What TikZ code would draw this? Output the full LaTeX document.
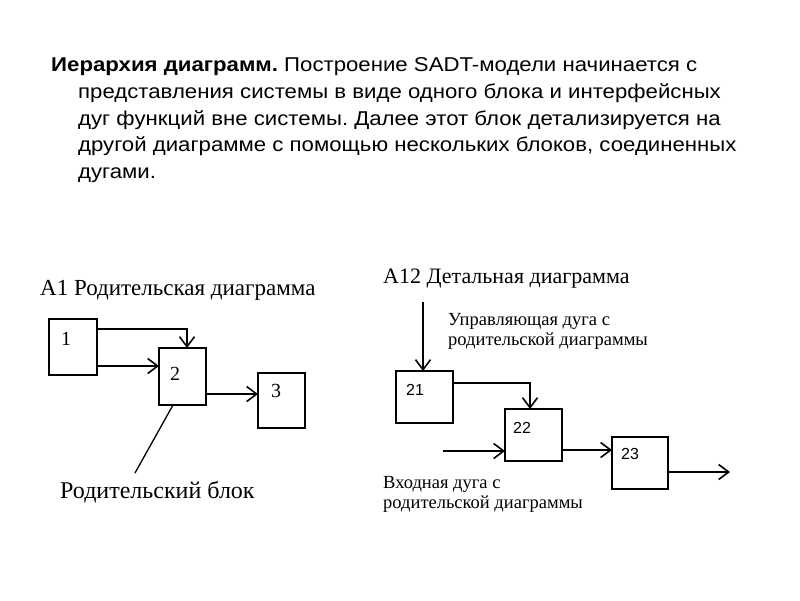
\documentclass[tikz,border=0pt]{standalone}
\usepackage{fontspec}
\setmainfont{Liberation Serif}
\newfontfamily\arial{Liberation Sans}
\newfontfamily\arialw[FakeStretch=1.11]{Liberation Sans}
\usetikzlibrary{arrows.meta,calc}
\tikzset{
  box/.style={draw=black, line width=1.1pt, minimum width=#1, anchor=north west, inner sep=0pt, outer sep=0pt},
  arr/.style={line width=1.9pt, -{Straight Barb[length=10pt,width=15pt,line width=1.6pt]}},
  plain/.style={line width=1.3pt},
  body/.style={anchor=base west, inner sep=0pt, font=\arialw\fontsize{20}{24}\selectfont\frenchspacing},
  ttl/.style={anchor=base west, inner sep=0pt, font=\fontsize{#1}{25}\selectfont},
  ann/.style={anchor=base west, inner sep=0pt, font=\fontsize{18.5}{20}\selectfont},
  lblT/.style={anchor=base west, inner sep=0pt, font=\fontsize{20}{24}\selectfont},
  lblA/.style={anchor=base west, inner sep=0pt, font=\arial\fontsize{16}{18}\selectfont},
}
\begin{document}
\begin{tikzpicture}[x=1pt,y=-1pt]
\useasboundingbox[fill=white] (0,0) rectangle (800,600);
% body text
\node[body] (t1) at (51,71) {\textbf{Иерархия диаграмм.} Построение SADT-модели начинается с};
\node[body] (t2) at (78,98) {представления системы в виде одного блока и интерфейсных};
\node[body] (t3) at (78,125) {дуг функций вне системы. Далее этот блок детализируется на};
\node[body] (t4) at (78,151) {другой диаграмме с помощью нескольких блоков, соединенных};
\node[body] (t5) at (78,178) {дугами.};
% left diagram
\node[ttl=23] (lt) at (40,295) {A1 Родительская диаграмма};
\node[box=48pt, minimum height=56pt] (b1) at (49,319) {};
\node[box=47pt, minimum height=57pt] (b2) at (159,348) {};
\node[box=47pt, minimum height=55pt] (b3) at (258,373) {};
\node[lblT] (l1) at (61,345) {1};
\node[lblT] (l2) at (170,380) {2};
\node[lblT] (l3) at (271,397) {3};
\coordinate (a1) at ($(b1.north east)+(0,10)$);
\draw[arr] (a1) -| ($(b2.north)+(4.5,0)$);
\coordinate (a2) at ($(b1.south east)+(0,-9)$);
\draw[arr] (a2) -- (a2 -| b2.west);
\coordinate (a3) at ($(b2.south east)+(0,-11)$);
\draw[arr] (a3) -- (a3 -| b3.west);
\coordinate (pb) at (135,473);
\draw[plain] ($(b2.south)+(-9.5,0)$) -- (pb);
\node[ttl=24] (plbl) at (60,498) {Родительский блок};
% right diagram
\node[ttl=22] (rt) at (383,283) {A12 Детальная диаграмма};
\node[ann] (c1a) at (448,325) {Управляющая дуга с};
\node[ann] (c1b) at (448,345) {родительской диаграммы};
\node[box=57pt, minimum height=52pt] (b21) at (396,371) {};
\node[box=57pt, minimum height=52pt] (b22) at (505,409) {};
\node[box=56pt, minimum height=52pt] (b23) at (612,437) {};
\node[lblA] (l21) at (406,395) {21};
\node[lblA] (l22) at (513,433) {22};
\node[lblA] (l23) at (621,459) {23};
\coordinate (ctl) at (423,302);
\draw[arr] (ctl) -- (ctl |- b21.north);
\coordinate (r1) at ($(b21.north east)+(0,12)$);
\draw[arr] (r1) -| ($(b22.north)+(-3.5,0)$);
\coordinate (inp) at (443,451);
\draw[arr] (inp) -- (inp -| b22.west);
\coordinate (r2) at ($(b22.south east)+(0,-11)$);
\draw[arr] (r2) -- (r2 -| b23.west);
\coordinate (r3) at ($(b23.south east)+(0,-17)$);
\coordinate (outp) at (730,472);
\draw[arr] (r3) -- (r3 -| outp);
\node[ann] (i1a) at (383,488) {Входная дуга с};
\node[ann] (i1b) at (383,508) {родительской диаграммы};
\end{tikzpicture}
\end{document}
